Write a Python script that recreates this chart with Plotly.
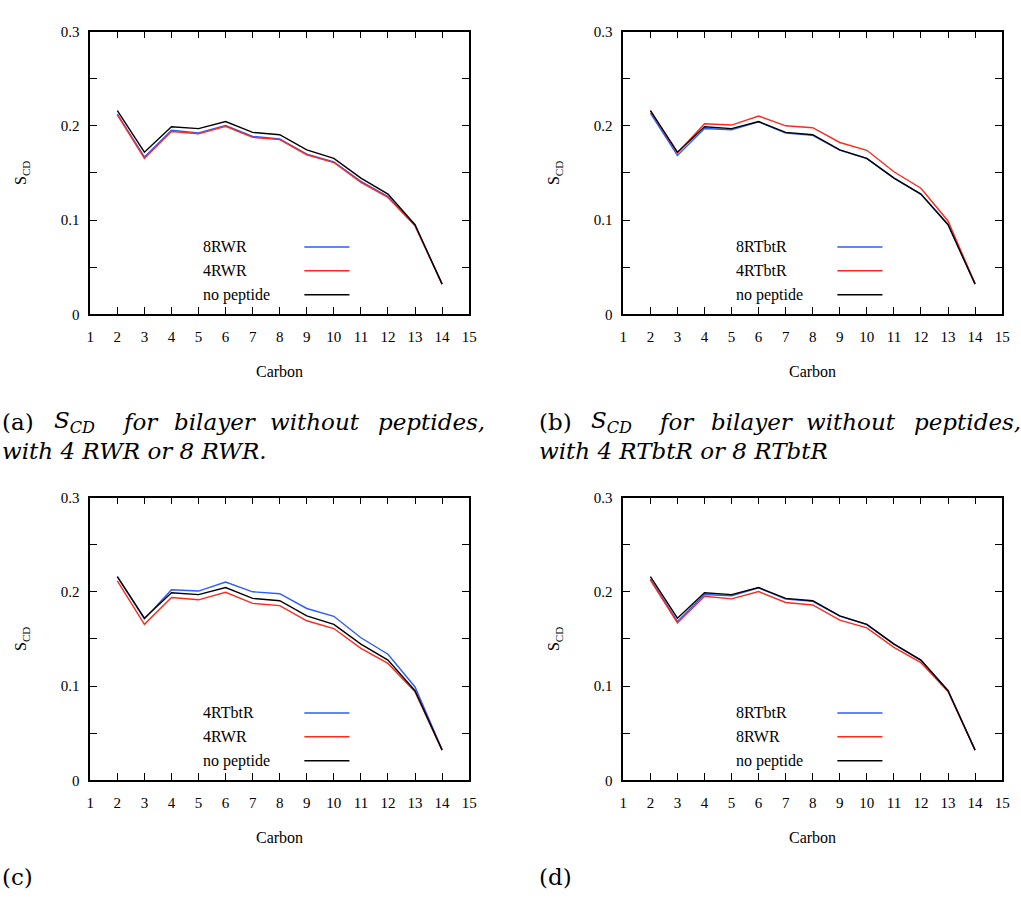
import plotly.graph_objects as go

W, H = 1021, 915

carbons = list(range(2, 15))

no_peptide = [0.216, 0.172, 0.199, 0.197, 0.2045, 0.193, 0.1905, 0.1745, 0.1655, 0.1445, 0.1275, 0.095, 0.032]
rwr4 = [0.2115, 0.1655, 0.194, 0.1915, 0.1995, 0.1877, 0.1853, 0.1693, 0.161, 0.140, 0.124, 0.0938, 0.032]
rwr8 = [0.2125, 0.167, 0.1952, 0.1925, 0.2003, 0.1887, 0.186, 0.170, 0.1617, 0.141, 0.1248, 0.0942, 0.032]
rtbtr4 = [0.216, 0.1712, 0.2022, 0.2008, 0.2103, 0.200, 0.198, 0.1823, 0.174, 0.1512, 0.1338, 0.099, 0.0325]
rtbtr8 = [0.2135, 0.1685, 0.1972, 0.1958, 0.2042, 0.1922, 0.1898, 0.1742, 0.1652, 0.1448, 0.1272, 0.0955, 0.032]

x_ticks = list(range(1, 16))
y_tickvals = [0, 0.05, 0.1, 0.15, 0.2, 0.25, 0.3]
y_ticktext = ["0", "", "0.1", "", "0.2", "", "0.3"]

BLUE = "#2a5cff"
RED = "#ff2a1a"
BLACK = "#000000"

panels = [
    [("8RWR", rwr8, BLUE), ("4RWR", rwr4, RED), ("no peptide", no_peptide, BLACK)],
    [("8RTbtR", rtbtr8, BLUE), ("4RTbtR", rtbtr4, RED), ("no peptide", no_peptide, BLACK)],
    [("4RTbtR", rtbtr4, BLUE), ("4RWR", rwr4, RED), ("no peptide", no_peptide, BLACK)],
    [("8RTbtR", rtbtr8, BLUE), ("8RWR", rwr8, RED), ("no peptide", no_peptide, BLACK)],
]

# plot-area pixel boxes (left, right, top, bottom)
boxes = [
    (87.3, 470.7, 24.0, 311.7),
    (626.7, 1010.0, 24.0, 311.7),
    (87.3, 470.7, 498.3, 786.0),
    (626.7, 1010.0, 498.3, 786.0),
]

SERIF = "'Liberation Serif', 'Times New Roman', Times, serif"
CAPF = "'DejaVu Serif', 'Liberation Serif', serif"

fig = go.Figure()
layout = dict(
    width=W, height=H, margin=dict(l=0, r=0, t=0, b=0),
    paper_bgcolor="white", plot_bgcolor="white", showlegend=False,
    font=dict(family=SERIF, color="black"),
)
annotations = []
shapes = []

for i, (series, (l, r, t, b)) in enumerate(zip(panels, boxes)):
    n = "" if i == 0 else str(i + 1)
    xa, ya = "x" + n, "y" + n
    for name, vals, col in series:
        fig.add_trace(go.Scatter(x=carbons, y=vals, mode="lines", name=name,
                                 line=dict(color=col, width=1.4), xaxis=xa, yaxis=ya))
    common = dict(showgrid=False, zeroline=False, showline=True, linecolor="black",
                  linewidth=1.6, mirror="ticks", ticks="inside", ticklen=7, tickwidth=1.2,
                  tickcolor="black", tickfont=dict(family=SERIF, size=15, color="black"))
    layout["xaxis" + n] = dict(common, domain=[l / W, r / W], range=[1, 15],
                               tickmode="array", tickvals=x_ticks, anchor=ya,
                               ticklabelstandoff=8)
    layout["yaxis" + n] = dict(common, domain=[1 - b / H, 1 - t / H], range=[0, 0.3],
                               tickmode="array", tickvals=y_tickvals, ticktext=y_ticktext,
                               anchor=xa, ticklabelstandoff=6)
    # axis titles
    annotations.append(dict(text="Carbon", x=(l + r) / 2 / W, y=1 - (b + 58) / H,
                            xref="paper", yref="paper", showarrow=False,
                            xanchor="center", yanchor="middle",
                            font=dict(family=SERIF, size=16, color="black")))
    annotations.append(dict(text="S<sub>CD</sub>", x=(l - 69) / W, y=1 - (t + b) / 2 / H,
                            xref="paper", yref="paper", showarrow=False, textangle=-90,
                            xanchor="center", yanchor="middle",
                            font=dict(family=SERIF, size=16, color="black")))
    # legend (gnuplot style: text left, sample right)
    rows = [0.238, 0.154, 0.069]
    for (name, vals, col), yy in zip(series, rows):
        annotations.append(dict(text=name, x=0.291, y=yy, xref=xa + " domain",
                                yref=ya + " domain", showarrow=False, xanchor="left",
                                yanchor="middle",
                                font=dict(family=SERIF, size=16, color="black")))
        shapes.append(dict(type="line", xref=xa + " domain", yref=ya + " domain",
                           x0=0.565, x1=0.684, y0=yy, y1=yy,
                           line=dict(color=col, width=1.4)))

# captions
cap_words_a = ["(a)", "<i>S<sub>CD</sub></i>", "<i>for</i>", "<i>bilayer</i>",
               "<i>without</i>", "<i>peptides,</i>"]
cap_pos = [-4, 49, 117, 170, 267, 376]
cap_line2 = ["<i>with 4 RWR or 8 RWR.</i>", "<i>with 4 RTbtR or 8 RTbtR</i>"]
cap_words_b = ["(b)"] + cap_words_a[1:]
CAPS = 23
for off, words, line2 in [(0, cap_words_a, cap_line2[0]), (543, cap_words_b, cap_line2[1])]:
    for w, p in zip(words, cap_pos):
        annotations.append(dict(text=w, x=(p + off) / W, y=1 - 421 / H, xref="paper",
                                yref="paper", showarrow=False, xanchor="left",
                                yanchor="middle",
                                font=dict(family=CAPF, size=CAPS, color="black")))
    annotations.append(dict(text=line2, x=(-4 + off) / W, y=1 - 451 / H, xref="paper",
                            yref="paper", showarrow=False, xanchor="left",
                            yanchor="middle",
                            font=dict(family=CAPF, size=CAPS, color="black")))
for txt, px in [("(c)", -4), ("(d)", 539)]:
    annotations.append(dict(text=txt, x=px / W, y=1 - 884 / H, xref="paper",
                            yref="paper", showarrow=False, xanchor="left",
                            yanchor="middle",
                            font=dict(family=CAPF, size=CAPS, color="black")))

layout["annotations"] = annotations
layout["shapes"] = shapes
fig.update_layout(**layout)
fig.write_html("out.html")
